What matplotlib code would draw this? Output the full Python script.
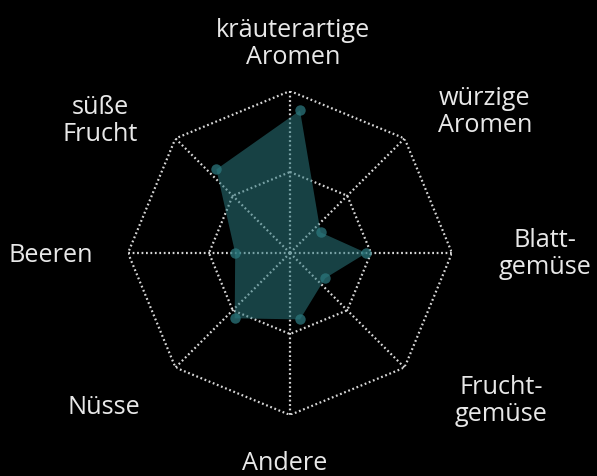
import numpy as np
import matplotlib
matplotlib.use("Agg")
import matplotlib.pyplot as plt
from matplotlib.transforms import ScaledTranslation

categories = ["kräuterartige\nAromen", "würzige\nAromen", "Blatt-\ngemüse", "Frucht-\ngemüse",
              "Andere", "Nüsse", "Beeren", "süße\nFrucht"]
values = [8.8, 1.8, 4.1, 2.2, 4.1, 5.7, 4.0, 7.3]
ring_levels = [5, 10]
r_max = 10

# label positions in pixels (x, y from top)
label_px = [(293, 44), (485, 112), (545, 254), (501, 401),
            (285, 463), (104, 408), (51, 256), (100, 121)]

W, H, DPI = 597, 476, 100
fig = plt.figure(figsize=(W / DPI, H / DPI), dpi=DPI, facecolor="black")
cx, cy, R = 290, 253, 162
ax = fig.add_axes([(cx - R) / W, (H - cy - R) / H, 2 * R / W, 2 * R / H], projection="polar")
ax.set_facecolor("black")
ax.set_theta_zero_location("N")
ax.set_theta_direction(-1)
ax.set_ylim(0, r_max)
ax.grid(False)
ax.set_xticks([])
ax.set_yticks([])
ax.spines["polar"].set_visible(False)

n = len(categories)
angles = np.linspace(0, 2 * np.pi, n, endpoint=False)
closed = np.concatenate([angles, angles[:1]])

grid_kw = dict(color="#d8d8d8", linewidth=1.6, linestyle=(0, (0.8, 1.2)), zorder=1)
for lvl in ring_levels:
    ax.plot(closed, [lvl] * (n + 1), **grid_kw)
for a in angles:
    ax.plot([a, a], [0, r_max], **grid_kw)

offset = ax.transData + ScaledTranslation(10 / DPI, 0, fig.dpi_scale_trans)
vals = np.array(values + values[:1])
ax.fill(closed, vals, color="#2b777d", alpha=0.55, linewidth=0, zorder=3, transform=offset)
ax.plot(angles, values, "o", color="#2b777d", markersize=7.5, alpha=0.75, zorder=4,
        transform=offset, markeredgewidth=0)

for lab, (px, py) in zip(categories, label_px):
    fig.text(px / W, 1 - py / H, lab, ha="center", va="center", color="#e8e8e8",
             fontsize=18.2, family="Open Sans", linespacing=1.07)

fig.savefig("out.png", dpi=DPI, facecolor="black")
